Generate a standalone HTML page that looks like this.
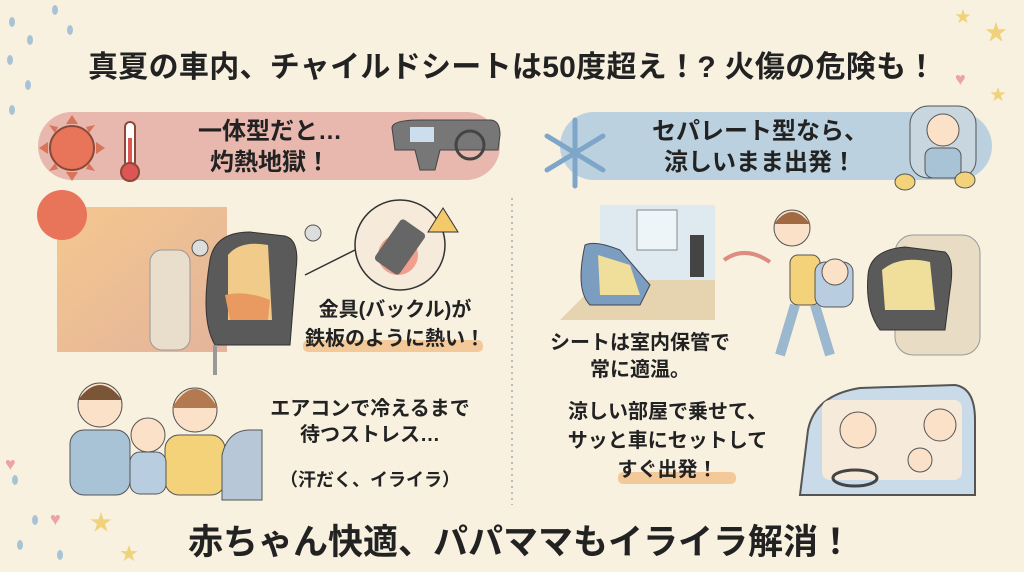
<!DOCTYPE html>
<html><head><meta charset="utf-8"><style>
body{margin:0;width:1024px;height:572px;overflow:hidden;background:#f8f1e0;font-family:"Liberation Sans","Noto Sans CJK JP",sans-serif;position:relative;color:#222}
.t{position:absolute;font-weight:bold;white-space:nowrap}
.c{text-align:center}
</style></head><body>
<svg width="1024" height="572" style="position:absolute;left:0;top:0">
<g fill="#a9c3d6">
<ellipse cx="12" cy="22" rx="3" ry="5"/><ellipse cx="30" cy="40" rx="3" ry="5"/><ellipse cx="10" cy="60" rx="3" ry="5"/><ellipse cx="28" cy="85" rx="3" ry="5"/><ellipse cx="12" cy="110" rx="3" ry="5"/><ellipse cx="55" cy="10" rx="3" ry="5"/><ellipse cx="70" cy="30" rx="3" ry="5"/><ellipse cx="15" cy="480" rx="3" ry="5"/><ellipse cx="35" cy="520" rx="3" ry="5"/><ellipse cx="60" cy="555" rx="3" ry="5"/><ellipse cx="20" cy="545" rx="3" ry="5"/>
</g>
<g fill="#f0d27a"><text x="985" y="40" font-size="22">★</text><text x="955" y="22" font-size="16">★</text><text x="990" y="100" font-size="16">★</text><text x="90" y="530" font-size="22">★</text><text x="120" y="560" font-size="18">★</text></g>
<g fill="#eca3a3"><text x="955" y="85" font-size="18">♥</text><text x="5" y="470" font-size="18">♥</text><text x="50" y="525" font-size="18">♥</text></g>
<rect x="38" y="112" width="462" height="68" rx="34" fill="#e8b7ae"/>
<rect x="560" y="112" width="432" height="68" rx="34" fill="#bcd1df"/>
<circle cx="72" cy="148" r="22" fill="#e8745a" stroke="#8a4a3a" stroke-width="2"/>
<g fill="#d8745a"><polygon points="72,115 66,124 78,124"/><polygon points="72,181 66,172 78,172"/><polygon points="39,148 48,142 48,154"/><polygon points="105,148 96,142 96,154"/><polygon points="49,125 55,133 58,127"/><polygon points="95,125 89,133 86,127"/><polygon points="49,171 55,163 58,169"/><polygon points="95,171 89,163 86,169"/></g>
<rect x="125" y="122" width="10" height="45" rx="5" fill="#fff" stroke="#8a4a3a" stroke-width="2"/>
<rect x="128" y="138" width="4" height="30" fill="#d55"/>
<circle cx="130" cy="172" r="9" fill="#d55" stroke="#8a4a3a" stroke-width="2"/>
<path d="M392 128 Q392 120 420 120 L490 120 Q500 120 500 135 L498 150 L440 150 L435 170 L420 170 L415 150 L395 150 Z" fill="#777" stroke="#444"/>
<rect x="410" y="127" width="24" height="15" fill="#cde"/>
<circle cx="470" cy="145" r="14" fill="none" stroke="#444" stroke-width="3"/>
<g stroke="#7ea6c8" stroke-width="5" stroke-linecap="round"><line x1="575" y1="120" x2="575" y2="186"/><line x1="547" y1="136" x2="603" y2="170"/><line x1="547" y1="170" x2="603" y2="136"/></g>
<rect x="910" y="106" width="66" height="72" rx="18" fill="#c8d6e0" stroke="#555"/>
<circle cx="943" cy="130" r="16" fill="#fbe1c8" stroke="#555"/>
<rect x="925" y="148" width="36" height="30" rx="8" fill="#a9c3d6" stroke="#555"/>
<ellipse cx="905" cy="182" rx="10" ry="8" fill="#f2d27a" stroke="#555"/><ellipse cx="965" cy="180" rx="10" ry="8" fill="#f2d27a" stroke="#555"/>
<defs><linearGradient id="g1" x1="0" y1="0" x2="1" y2="1"><stop offset="0" stop-color="#f4c78e"/><stop offset="1" stop-color="#e4b49c"/></linearGradient></defs>
<rect x="57" y="207" width="170" height="145" fill="url(#g1)"/>
<circle cx="62" cy="215" r="25" fill="#e8745a"/>
<rect x="150" y="250" width="40" height="100" rx="12" fill="#e9ddcc" stroke="#999"/>
<path d="M210 260 Q215 232 250 232 L285 236 Q300 240 296 270 L290 345 L215 345 Q200 320 210 260Z" fill="#5a5a5a" stroke="#333"/>
<path d="M228 255 Q240 240 268 245 L272 320 L228 320 Z" fill="#f0cb8a"/>
<path d="M225 295 Q245 290 270 300 L268 320 L230 320Z" fill="#e89a60"/>
<line x1="215" y1="345" x2="215" y2="375" stroke="#999" stroke-width="4"/>
<g fill="#ddd" stroke="#555"><circle cx="200" cy="248" r="8"/><circle cx="313" cy="233" r="8"/></g>
<line x1="305" y1="275" x2="355" y2="250" stroke="#333" stroke-width="1.5"/>
<circle cx="400" cy="245" r="45" fill="#f6ebda" stroke="#333" stroke-width="1.5"/>
<circle cx="398" cy="255" r="20" fill="#f06a5a" opacity=".6"/>
<rect x="385" y="222" width="30" height="50" rx="4" fill="#666" transform="rotate(35 400 247)"/>
<polygon points="443,208 428,232 458,232" fill="#f3c96a" stroke="#333"/>
<rect x="303" y="340" width="180" height="12" rx="5" fill="#f3c99a"/>
<circle cx="100" cy="405" r="22" fill="#fbe1c8" stroke="#555"/><path d="M78 400 Q100 370 122 400" fill="#7a5538"/>
<rect x="70" y="430" width="60" height="65" rx="14" fill="#a9c3d6" stroke="#555"/>
<circle cx="195" cy="410" r="22" fill="#fbe1c8" stroke="#555"/><path d="M172 408 Q195 370 218 408" fill="#b37a4f"/>
<rect x="165" y="435" width="60" height="60" rx="14" fill="#f4d27a" stroke="#555"/>
<circle cx="148" cy="435" r="17" fill="#fbe1c8" stroke="#555"/>
<rect x="130" y="452" width="36" height="42" rx="10" fill="#b9cde0" stroke="#555"/>
<path d="M222 500 L222 455 Q228 430 250 430 L262 430 L262 500Z" fill="#b7c7d8" stroke="#555"/>
<line x1="512" y1="198" x2="512" y2="505" stroke="#bbb" stroke-width="2" stroke-dasharray="2 4"/>
<rect x="600" y="205" width="115" height="115" fill="#dfeaf0"/>
<rect x="637" y="210" width="40" height="40" fill="#eef5f8" stroke="#888"/>
<polygon points="560,320 715,320 715,280 600,280" fill="#e6d3b0"/>
<path d="M585 245 Q595 240 620 250 L650 285 L640 305 L590 305 Q575 290 585 245Z" fill="#7b9dbf" stroke="#445"/>
<path d="M598 255 L630 265 L640 295 L600 295Z" fill="#f0df9a"/>
<rect x="690" y="235" width="14" height="42" fill="#444"/>
<path d="M724 260 Q745 245 770 262" fill="none" stroke="#dc8c80" stroke-width="4"/>
<circle cx="792" cy="228" r="18" fill="#fbe1c8" stroke="#555"/><path d="M774 224 Q792 200 810 224" fill="#a26a42"/>
<rect x="790" y="255" width="30" height="50" rx="8" fill="#f4d27a" stroke="#555"/>
<path d="M795 305 L780 355 M815 305 L830 355" stroke="#9cb8cf" stroke-width="10"/>
<rect x="815" y="262" width="38" height="45" rx="10" fill="#b9cde0" stroke="#555"/>
<circle cx="835" cy="272" r="13" fill="#fbe1c8" stroke="#555"/>
<rect x="895" y="235" width="85" height="120" rx="18" fill="#e9dcc5" stroke="#999"/>
<path d="M868 275 Q870 250 905 247 L945 252 Q955 260 950 290 L945 330 L880 330 Q865 310 868 275Z" fill="#5a5a5a" stroke="#333"/>
<path d="M882 270 Q900 255 930 262 L935 310 L885 310Z" fill="#f0df9a"/>
<path d="M800 495 L808 430 Q815 395 860 388 L955 385 Q975 388 975 420 L975 495Z" fill="#c9dbe8" stroke="#555" stroke-width="2"/>
<rect x="822" y="400" width="140" height="80" rx="8" fill="#f6ebdb"/>
<circle cx="858" cy="430" r="18" fill="#fbe1c8" stroke="#555"/><circle cx="940" cy="425" r="16" fill="#fbe1c8" stroke="#555"/><circle cx="920" cy="460" r="12" fill="#fbe1c8" stroke="#555"/>
<ellipse cx="855" cy="478" rx="22" ry="8" fill="none" stroke="#444" stroke-width="3"/>
<rect x="618" y="472" width="118" height="12" rx="5" fill="#f3c99a"/>
</svg>
<div class="t" style="left:88px;top:42px;font-size:30px;letter-spacing:0.3px">真夏の車内、チャイルドシートは50度超え！? 火傷の危険も！</div>
<div class="t c" style="left:160px;top:116px;width:220px;font-size:24px;line-height:31px">一体型だと…<br>灼熱地獄！</div>
<div class="t c" style="left:620px;top:116px;width:280px;font-size:24px;line-height:31px">セパレート型なら、<br>涼しいまま出発！</div>
<div class="t c" style="left:290px;top:296px;width:210px;font-size:20px;line-height:29px">金具(バックル)が<br>鉄板のように熱い！</div>
<div class="t c" style="left:255px;top:396px;width:230px;font-size:20px;line-height:26px">エアコンで冷えるまで<br>待つストレス…</div>
<div class="t c" style="left:260px;top:466px;width:220px;font-size:18px">（汗だく、イライラ）</div>
<div class="t c" style="left:535px;top:330px;width:210px;font-size:20px;line-height:27px">シートは室内保管で<br>常に適温。</div>
<div class="t c" style="left:560px;top:398px;width:215px;font-size:20px;line-height:29px">涼しい部屋で乗せて、<br>サッと車にセットして<br>すぐ出発！</div>
<div class="t" style="left:188px;top:514px;font-size:35px">赤ちゃん快適、パパママもイライラ解消！</div>
</body></html>
